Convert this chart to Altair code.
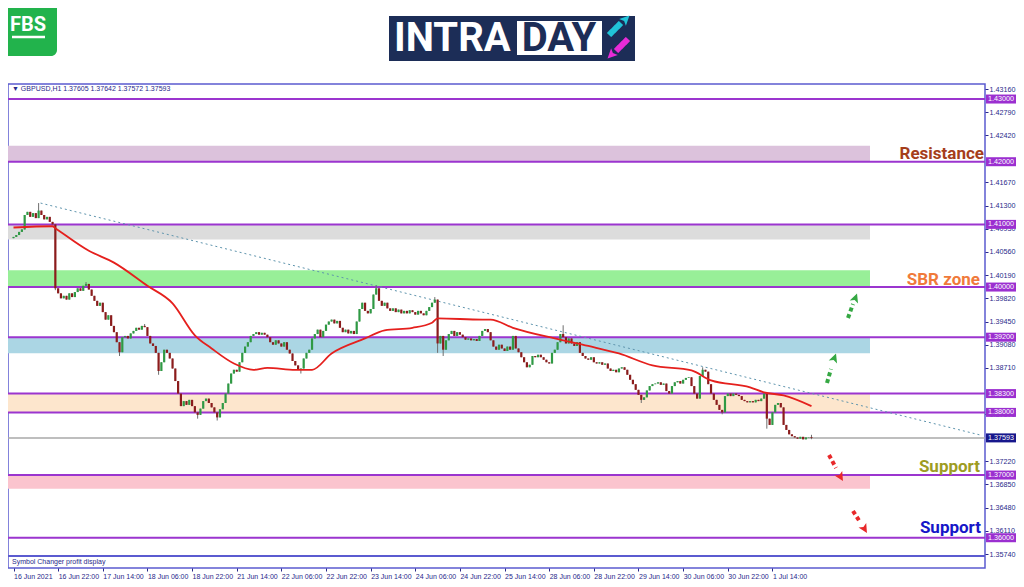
import json
import altair as alt
import pandas as pd

# ---------------- data ----------------
first_open = 1.4078
closes = [
    1.4080, 1.4083, 1.4088, 1.4092, 1.4115, 1.4120, 1.4112, 1.4118, 1.4110, 1.4122,
    1.4115, 1.4108, 1.4112, 1.4104, 1.4100, 1.3998, 1.3990, 1.3982, 1.3986, 1.3980,
    1.3990, 1.3984, 1.3992, 1.3998, 1.3994, 1.4002, 1.4005, 1.3996, 1.3986, 1.3978,
    1.3970, 1.3975, 1.3960, 1.3948, 1.3955, 1.3938, 1.3928, 1.3912, 1.3896, 1.3920,
    1.3922, 1.3918, 1.3926, 1.3930, 1.3935, 1.3932, 1.3938, 1.3936, 1.3922, 1.3910,
    1.3906, 1.3895, 1.3866, 1.3880, 1.3900, 1.3895, 1.3886, 1.3870, 1.3850, 1.3830,
    1.3810, 1.3818, 1.3812, 1.3820, 1.3810, 1.3800, 1.3796, 1.3806, 1.3818, 1.3822,
    1.3815, 1.3808, 1.3800, 1.3792, 1.3805, 1.3815, 1.3830, 1.3846, 1.3862, 1.3868,
    1.3865, 1.3880, 1.3895, 1.3905, 1.3912, 1.3922, 1.3925, 1.3928, 1.3924, 1.3927,
    1.3924, 1.3920, 1.3912, 1.3908, 1.3915, 1.3910, 1.3905, 1.3912, 1.3900, 1.3894,
    1.3882, 1.3875, 1.3868, 1.3870, 1.3886, 1.3895, 1.3900, 1.3918, 1.3925, 1.3932,
    1.3920, 1.3930, 1.3940, 1.3945, 1.3948, 1.3942, 1.3946, 1.3935, 1.3928, 1.3932,
    1.3926, 1.3930, 1.3925, 1.3945, 1.3965, 1.3975, 1.3962, 1.3958, 1.3965, 1.3988,
    1.3998, 1.3978, 1.3970, 1.3975, 1.3966, 1.3962, 1.3966, 1.3960, 1.3964, 1.3958,
    1.3962, 1.3958, 1.3963, 1.3960, 1.3956, 1.3962, 1.3958, 1.3955, 1.3962, 1.3968,
    1.3975, 1.3980, 1.3910, 1.3922, 1.3900, 1.3915, 1.3925, 1.3930, 1.3922, 1.3928,
    1.3924, 1.3920, 1.3916, 1.3918, 1.3915, 1.3917, 1.3914, 1.3922, 1.3930, 1.3933,
    1.3928, 1.3915, 1.3905, 1.3900, 1.3908, 1.3902, 1.3898, 1.3905, 1.3900, 1.3922,
    1.3902, 1.3896, 1.3888, 1.3880, 1.3872, 1.3876, 1.3890, 1.3888, 1.3892, 1.3888,
    1.3884, 1.3880, 1.3878, 1.3895, 1.3900, 1.3912, 1.3925, 1.3920, 1.3910, 1.3918,
    1.3910, 1.3906, 1.3912, 1.3895, 1.3890, 1.3886, 1.3884, 1.3888, 1.3880, 1.3878,
    1.3880, 1.3876, 1.3878, 1.3870, 1.3866, 1.3868, 1.3864, 1.3870, 1.3872, 1.3868,
    1.3860, 1.3852, 1.3845, 1.3836, 1.3828, 1.3820, 1.3824, 1.3835, 1.3842, 1.3845,
    1.3846, 1.3848, 1.3844, 1.3846, 1.3834, 1.3830, 1.3842, 1.3848, 1.3850, 1.3846,
    1.3852, 1.3855, 1.3856, 1.3842, 1.3830, 1.3822, 1.3858, 1.3868, 1.3865, 1.3845,
    1.3830, 1.3820, 1.3812, 1.3804, 1.3800, 1.3826, 1.3830, 1.3826, 1.3830, 1.3828,
    1.3826, 1.3820, 1.3818, 1.3816, 1.3818, 1.3816, 1.3820, 1.3818, 1.3822, 1.3830,
    1.3790, 1.3780, 1.3800, 1.3812, 1.3815, 1.3808, 1.3780, 1.3772, 1.3765, 1.3762,
    1.3760, 1.3758, 1.3761, 1.3757, 1.3760, 1.37605, 1.37593,
]
high_extremes = {9: 1.4134, 26: 1.4008, 47: 1.3941, 130: 1.4003, 151: 1.3984,
                 197: 1.3939, 247: 1.3872, 286: 1.37642}
low_extremes = {15: 1.3995, 38: 1.3890, 52: 1.3860, 66: 1.3790, 73: 1.3787,
                103: 1.3862, 152: 1.3895, 154: 1.3890, 225: 1.3815, 254: 1.3797,
                270: 1.3774, 286: 1.37572}

ma_bars = [0, 14, 15, 27, 36, 48, 57, 65, 71, 79, 86, 91, 101, 107, 114, 126, 133,
           143, 150, 152, 168, 171, 179, 194, 206, 217, 229, 243, 250, 264, 269, 276, 286]
ma_vals = [1.4095, 1.4097, 1.4094, 1.4058, 1.4039, 1.4002, 1.3974, 1.3923, 1.3902,
           1.3878, 1.3868, 1.3871, 1.3868, 1.3868, 1.3894, 1.3918, 1.3931, 1.3935,
           1.3943, 1.3950, 1.3948, 1.3948, 1.3935, 1.3918, 1.3906, 1.3894, 1.3875,
           1.3867, 1.3851, 1.3840, 1.3832, 1.3827, 1.3810]

trend_bars = [9.7, 346.4]
trend_vals = [1.4134, 1.3764]

levels = [1.43, 1.42, 1.41, 1.40, 1.392, 1.383, 1.38, 1.37, 1.36]
level_labels = ["1.43000", "1.42000", "1.41000", "1.40000", "1.39200",
                "1.38300", "1.38000", "1.37000", "1.36000"]
current_price = 1.37593

zone_lo = [1.4200, 1.4076, 1.4000, 1.38945, 1.3800, 1.3678]
zone_hi = [1.42255, 1.4100, 1.4027, 1.3920, 1.3830, 1.3700]
zone_colors = ["#dcc2dc", "#dcdcdc", "#98ef98", "#abd6e4", "#fde6cd", "#fbc4ce"]

# right-axis scale labels that are not hidden under a price tag
y_ticks = [1.43160, 1.42790, 1.42420, 1.41670, 1.41300, 1.40930, 1.40560,
           1.40190, 1.39820, 1.39450, 1.39080, 1.38710, 1.37970,
           1.37220, 1.36850, 1.36480, 1.36110, 1.35740]
x_tick_bars = [0, 16, 32, 48, 64, 80, 96, 112, 128, 144, 160, 176, 192, 208, 224, 240, 256, 272]
x_tick_labels = ["16 Jun 2021", "16 Jun 22:00", "17 Jun 14:00", "18 Jun 06:00",
                 "18 Jun 22:00", "21 Jun 14:00", "22 Jun 06:00", "22 Jun 22:00",
                 "23 Jun 14:00", "24 Jun 06:00", "24 Jun 22:00", "25 Jun 14:00",
                 "28 Jun 06:00", "28 Jun 22:00", "29 Jun 14:00", "30 Jun 06:00",
                 "30 Jun 22:00", "1 Jul 14:00"]

# ---------------- tables ----------------
opens = [first_open] + closes[:-1]
highs = [max(o, c) for o, c in zip(opens, closes)]
lows = [min(o, c) for o, c in zip(opens, closes)]
for k, v in high_extremes.items():
    highs[k] = max(highs[k], v)
for k, v in low_extremes.items():
    lows[k] = min(lows[k], v)
candles = pd.DataFrame({
    "i": list(range(len(closes))), "o": opens, "c": closes, "h": highs, "l": lows,
    "dir": ["up" if c >= o else "down" for o, c in zip(opens, closes)],
})
ma_df = pd.DataFrame({"i": ma_bars, "p": ma_vals})
trend_df = pd.DataFrame({"i": trend_bars, "p": trend_vals})
lev_df = pd.DataFrame({"p": levels, "t": level_labels})
zone_df = pd.DataFrame({"lo": zone_lo, "hi": zone_hi, "col": zone_colors})
cur_df = pd.DataFrame({"p": [current_price], "t": ["1.37593"]})

W, H = 977, 484
FRAME = "#5b5bd0"
NAVY = "#28288a"
xs = alt.Scale(domain=[-0.18, 346.4], nice=False, zero=False)
ys = alt.Scale(domain=[1.35517, 1.43240], nice=False, zero=False)

label_expr = "%s[indexof(%s, datum.value)]" % (json.dumps(x_tick_labels), json.dumps(x_tick_bars))

YAX = alt.Axis(orient="right", values=y_ticks, format=".5f", grid=False, domain=False,
               tickSize=3, tickColor=NAVY, labelColor=NAVY, labelFontSize=7.2,
               labelFont="Liberation Sans", labelPadding=1, title=None, labelOverlap=False)
XAX = alt.Axis(orient="bottom", values=x_tick_bars, labelExpr=label_expr, grid=False,
               domain=False, tickSize=3, tickColor=NAVY, labelColor=NAVY, labelFontSize=7,
               labelFont="Liberation Sans", labelAlign="left", labelPadding=1, title=None,
               labelOverlap=False, labelFlush=False)


def Y(f):
    return alt.Y(f, scale=ys, axis=YAX)


def X(f):
    return alt.X(f, scale=xs, axis=XAX)


zones = alt.Chart(zone_df).mark_rect().encode(
    x=alt.value(0), x2=alt.value(862),
    y=Y("lo:Q"), y2="hi:Q",
    color=alt.Color("col:N", scale=None),
)

level_rules = alt.Chart(lev_df).mark_rule(color="#9b35cf", strokeWidth=2).encode(y=Y("p:Q"))

cur_rule = alt.Chart(cur_df).mark_rule(color="#a8a8a8", strokeWidth=1.5).encode(y=Y("p:Q"))

trend = alt.Chart(trend_df).mark_line(color="#5e94ad", strokeWidth=1, strokeDash=[2, 3], clip=True).encode(
    x=X("i:Q"), y=Y("p:Q"))

wicks = alt.Chart(candles).mark_rule(color="#6e6e6e", strokeWidth=1).encode(
    x=X("i:Q"), y=Y("l:Q"), y2="h:Q")

bodies = alt.Chart(candles).mark_bar(size=2.2).encode(
    x=X("i:Q"), y=Y("o:Q"), y2="c:Q",
    color=alt.Color("dir:N", scale=alt.Scale(domain=["up", "down"], range=["#2f9a44", "#8c1c1c"]), legend=None),
)

ma_line = alt.Chart(ma_df).mark_line(color="#e5201d", strokeWidth=1.8, interpolate="monotone").encode(
    x=X("i:Q"), y=Y("p:Q"))

# price tags on the right axis
lev_tags = alt.Chart(lev_df).mark_rect(color="#9b2fd0", yOffset=-4.5, y2Offset=4.5).encode(
    x=alt.value(W + 1), x2=alt.value(W + 31), y=Y("p:Q"), y2="p:Q")
lev_text = alt.Chart(lev_df).mark_text(color="white", fontSize=7.2, font="Liberation Sans",
                                       align="center", baseline="middle").encode(
    x=alt.value(W + 16), y=Y("p:Q"), text="t:N")
cur_tag = alt.Chart(cur_df).mark_rect(color="#17178c", yOffset=-4.5, y2Offset=4.5).encode(
    x=alt.value(W + 1), x2=alt.value(W + 31), y=Y("p:Q"), y2="p:Q")
cur_text = alt.Chart(cur_df).mark_text(color="white", fontSize=7.2, font="Liberation Sans",
                                       align="center", baseline="middle").encode(
    x=alt.value(W + 16), y=Y("p:Q"), text="t:N")

# pane divider, header texts
divider = alt.Chart(lev_df).mark_rule(color=FRAME, strokeWidth=2).encode(
    x=alt.value(0), x2=alt.value(W), y=alt.value(472))
header = alt.Chart(cur_df).mark_text(align="left", baseline="middle", fontSize=7,
                                     font="Liberation Sans", color=NAVY).encode(
    x=alt.value(4), y=alt.value(5), text=alt.value("\u25bc GBPUSD,H1  1.37605 1.37642 1.37572 1.37593"))
sub_text = alt.Chart(cur_df).mark_text(align="left", baseline="middle", fontSize=7,
                                       font="Liberation Sans", color=NAVY).encode(
    x=alt.value(4), y=alt.value(478), text=alt.value("Symbol Changer profit display"))


# annotation words
def word(txt, x, y, col):
    return alt.Chart(cur_df).mark_text(align="right", baseline="alphabetic", fontSize=17,
                                       font="Roboto", fontWeight="bold", color=col).encode(
        x=alt.value(x), y=alt.value(y), text=alt.value(txt))


words = [word("Resistance", 976, 75, "#a53e1b"), word("SBR zone", 972, 201, "#f07a3a"),
         word("Support", 972, 388, "#9e9c22"), word("Support", 973, 449, "#1616c8")]

ARROW = "M0,-1L0.75,0.55L0,0.2L-0.75,0.55Z"


def arrow(x1, y1, x2, y2, hx, hy, ang, col, w=4, dash=True, size=140):
    shaft = alt.Chart(cur_df).mark_rule(color=col, strokeWidth=w,
                                        strokeDash=[4, 3] if dash else [1, 0]).encode(
        x=alt.value(x1), x2=alt.value(x2), y=alt.value(y1), y2=alt.value(y2))
    head = alt.Chart(cur_df).mark_point(shape=ARROW, filled=True, opacity=1, color=col,
                                        size=size, angle=ang).encode(
        x=alt.value(hx), y=alt.value(hy))
    return [shaft, head]


arrows = (arrow(840, 234, 845, 220, 847, 215, 20, "#35a843")
          + arrow(819, 299, 823, 285, 826, 275, 20, "#35a843")
          + arrow(821, 371, 828, 384, 832, 392, 150, "#e8282a")
          + arrow(845, 427, 852, 438, 856, 444, 150, "#e8282a"))

# logos
fbs_box = alt.Chart(cur_df).mark_rect(color="#22b34c", cornerRadius=6).encode(
    x=alt.value(-10), x2=alt.value(49), y=alt.value(-94), y2=alt.value(-28))
fbs_txt = alt.Chart(cur_df).mark_text(color="white", fontSize=20, font="Roboto",
                                      fontWeight="bold", align="center", baseline="middle").encode(
    x=alt.value(20), y=alt.value(-59), text=alt.value("FBS"))
fbs_line = alt.Chart(cur_df).mark_rule(color="white", strokeWidth=2.5).encode(
    x=alt.value(4), x2=alt.value(37), y=alt.value(-47))

intra_box = alt.Chart(cur_df).mark_rect(color="#1c2d57").encode(
    x=alt.value(381), x2=alt.value(627), y=alt.value(-68), y2=alt.value(-23))
day_box = alt.Chart(cur_df).mark_rect(color="white").encode(
    x=alt.value(509), x2=alt.value(594), y=alt.value(-63), y2=alt.value(-29))
intra_txt = alt.Chart(cur_df).mark_text(color="white", fontSize=40, font="Roboto",
                                        fontWeight="bold", align="left", baseline="middle").encode(
    x=alt.value(386), y=alt.value(-45), text=alt.value("INTRA"))
day_txt = alt.Chart(cur_df).mark_text(color="#1c2d57", fontSize=40, font="Roboto",
                                      fontWeight="bold", align="center", baseline="middle").encode(
    x=alt.value(551), y=alt.value(-45), text=alt.value("DAY"))
logo_arrows = (arrow(601, -49, 613, -61, 617, -64, 45, "#21c4d8", w=6, dash=False, size=160)
               + arrow(620, -45, 608, -33, 604, -30, 225, "#e82bd8", w=6, dash=False, size=160))

layers = ([zones, level_rules, cur_rule, trend, wicks, bodies, ma_line,
           lev_tags, lev_text, cur_tag, cur_text, divider, header, sub_text]
          + words + arrows
          + [fbs_box, fbs_txt, fbs_line, intra_box, day_box, intra_txt, day_txt] + logo_arrows)

chart = alt.layer(*layers).properties(
    width=W, height=H,
    autosize=alt.AutoSizeParams(type="none"),
    padding={"left": 0, "top": 76, "right": 31, "bottom": 13},
    background="white",
).configure_view(stroke=FRAME, strokeWidth=1.5)

chart.save("out.html", embed_options={"renderer": "svg", "actions": False})
